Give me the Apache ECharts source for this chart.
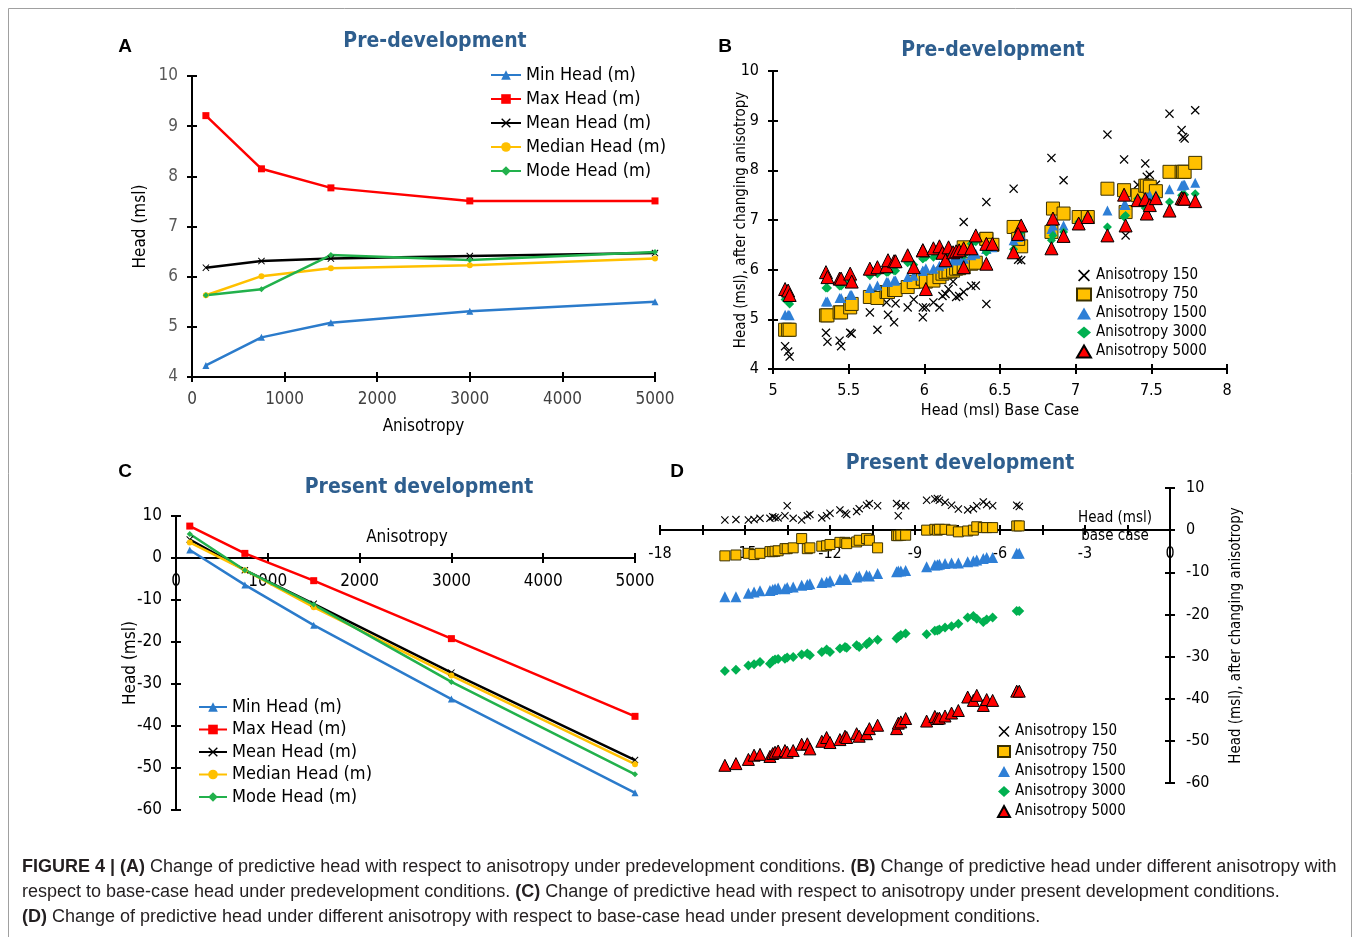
<!DOCTYPE html>
<html><head><meta charset="utf-8">
<script src="https://cdn.jsdelivr.net/npm/echarts@6/dist/echarts.min.js"></script>
<style>html,body{margin:0;padding:0;background:#fff}#c{width:1360px;height:937px}</style>
</head><body><div id="c"></div>
<script>
// ---------- DATA ----------
const anisotropy = [150, 750, 1500, 3000, 5000];
const lineNames = ['Min Head (m)', 'Max Head (m)', 'Mean Head (m)', 'Median Head (m)', 'Mode Head (m)'];
// Panel A: pre-development
const preMin    = [4.23, 4.79, 5.08, 5.31, 5.50];
const preMax    = [9.21, 8.15, 7.77, 7.51, 7.51];
const preMean   = [6.18, 6.31, 6.36, 6.41, 6.47];
const preMedian = [5.63, 6.01, 6.17, 6.23, 6.36];
const preMode   = [5.63, 5.75, 6.43, 6.33, 6.49];
// Panel C: present development
const presMin    = [1.9, -6.4, -16.0, -33.6, -55.9];
const presMax    = [7.6, 1.1, -5.4, -19.2, -37.7];
const presMean   = [4.4, -2.9, -10.9, -27.3, -48.1];
const presMedian = [3.7, -2.9, -11.7, -28.0, -49.1];
const presMode   = [5.7, -2.9, -11.1, -29.5, -51.5];

const scatterNames = ['Anisotropy 150', 'Anisotropy 750', 'Anisotropy 1500', 'Anisotropy 3000', 'Anisotropy 5000'];
// Panel B: base-case head (x) and head after changing anisotropy (y)
const baseB = [5.08,5.10,5.11,5.35,5.36,5.44,5.45,5.51,5.52,5.64,5.69,5.75,5.76,5.80,5.81,5.89,5.93,5.99,5.99,6.01,
  6.06,6.10,6.12,6.14,6.16,6.19,6.21,6.23,6.26,6.26,6.31,6.34,6.41,6.41,6.45,6.59,6.64,6.62,6.84,6.85,
  6.92,7.02,7.08,7.21,7.32,7.33,7.41,7.46,7.47,7.49,7.53,7.62,7.70,7.71,7.72,7.79];
const preB150 = [4.46,4.35,4.25,4.73,4.55,4.57,4.46,4.73,4.71,5.14,4.79,5.34,5.09,4.94,5.32,5.24,5.40,5.24,5.04,5.24,
  5.34,5.24,5.47,5.51,5.61,5.76,5.45,5.47,6.96,5.55,5.67,5.68,5.31,7.36,6.49,7.63,6.19,6.20,8.25,7.21,
  7.80,7.04,7.08,8.72,8.22,6.69,7.71,8.14,7.87,7.91,7.71,9.14,8.81,8.67,8.64,9.21];
const preB750 = [4.79,4.79,4.79,5.08,5.08,5.14,5.14,5.24,5.31,5.45,5.43,5.55,5.55,5.59,5.59,5.65,5.75,5.82,5.82,5.76,
  5.78,5.85,5.92,5.95,5.96,5.98,6.02,6.03,6.05,6.45,6.12,6.14,6.62,6.62,6.50,6.86,6.47,6.62,6.76,7.23,
  7.13,7.06,7.06,7.63,7.60,7.16,7.50,7.69,7.69,7.67,7.58,7.97,7.97,7.97,7.97,8.15];
const preB1500 = [5.09,5.09,5.08,5.36,5.36,5.43,5.43,5.49,5.49,5.63,5.68,5.75,5.75,5.78,5.78,5.85,5.88,5.98,5.98,6.03,
  6.02,6.08,6.12,6.14,6.15,6.19,6.19,6.19,6.22,6.23,6.29,6.32,6.42,6.42,6.45,6.59,6.69,6.66,6.82,6.89,
  6.89,6.96,7.06,7.19,7.30,7.30,7.43,7.46,7.46,7.50,7.50,7.62,7.69,7.71,7.71,7.75];
const preB3000 = [5.40,5.36,5.31,5.63,5.63,5.67,5.67,5.76,5.76,5.88,5.92,5.95,5.95,5.98,5.98,6.14,6.10,6.22,6.22,6.25,
  6.25,6.29,6.30,6.32,6.32,6.35,6.34,6.30,6.29,6.39,6.52,6.56,6.35,6.39,6.49,6.41,6.76,6.72,6.59,6.69,
  6.76,6.96,7.06,6.86,7.06,7.09,7.43,7.24,7.24,7.35,7.46,7.36,7.50,7.51,7.51,7.53];
const preB5000 = [5.61,5.58,5.49,5.95,5.85,5.82,5.82,5.92,5.76,6.02,6.05,6.07,6.19,6.17,6.17,6.29,6.05,6.39,6.39,5.61,
  6.43,6.47,6.34,6.19,6.45,6.35,6.37,6.39,6.05,6.43,6.43,6.69,6.12,6.52,6.52,6.35,6.89,6.72,6.43,7.03,
  6.68,6.93,7.06,6.69,7.51,6.89,7.40,7.42,7.13,7.30,7.44,7.19,7.44,7.43,7.43,7.38];
// Panel D
const baseD = [-15.71,-15.32,-14.88,-14.68,-14.47,-14.12,-14.02,-13.94,-13.83,-13.59,-13.51,-13.30,-13.00,-12.80,-12.71,
  -12.29,-12.12,-12.00,-11.65,-11.47,-11.41,-11.06,-10.97,-10.71,-10.61,-10.32,-9.65,-9.59,-9.50,-9.33,
  -8.59,-8.30,-8.21,-8.14,-7.94,-7.71,-7.47,-7.14,-6.94,-6.82,-6.59,-6.47,-6.26,-5.41,-5.32];
const presD150 = [2.4,2.5,2.4,2.5,2.8,2.8,3.2,3.0,2.9,3.4,5.8,2.8,2.4,3.4,3.7,2.9,3.4,4.0,4.8,4.0,
  3.7,4.4,5.1,5.9,6.3,5.8,6.3,3.4,5.8,5.8,7.1,7.4,7.5,7.1,6.6,5.9,5.0,4.8,5.1,5.8,6.7,6.1,5.8,5.9,5.6];
const presD750 = [-6.1,-5.9,-5.5,-5.8,-5.5,-5.1,-5.1,-5.0,-4.9,-4.4,-4.4,-4.2,-2.0,-4.4,-4.2,-3.8,-3.7,-3.4,-2.9,-2.9,
  -3.2,-2.8,-2.4,-2.0,-2.4,-4.2,-1.3,-1.3,-1.2,-1.2,0.0,0.2,0.0,0.2,0.2,0.0,-0.4,-0.2,0.0,0.8,0.6,0.6,0.6,1.0,1.0];
const presD1500 = [-15.8,-15.8,-15.0,-14.7,-14.4,-14.3,-14.1,-13.9,-13.7,-13.9,-13.6,-13.5,-13.1,-12.9,-12.7,-12.4,-12.3,-12.0,-11.7,-11.5,
  -11.7,-11.1,-10.9,-10.7,-10.9,-10.3,-9.9,-9.7,-9.7,-9.6,-8.7,-8.3,-8.2,-8.1,-7.9,-7.8,-7.8,-7.5,-7.3,-7.1,-6.7,-6.5,-6.5,-5.5,-5.5];
const presD3000 = [-33.4,-33.1,-32.1,-31.8,-31.3,-31.7,-31.0,-30.7,-30.6,-30.5,-30.2,-30.1,-29.5,-29.3,-29.7,-28.9,-28.3,-28.9,-28.1,-27.7,
  -27.9,-27.3,-27.7,-27.1,-26.5,-26.0,-25.7,-25.3,-24.9,-24.5,-24.7,-23.9,-23.8,-23.6,-23.1,-22.8,-22.2,-20.7,-20.4,-21.0,-21.8,-21.2,-20.7,-19.2,-19.2];
const presD5000 = [-55.8,-55.4,-54.4,-53.4,-53.2,-53.7,-53.0,-52.7,-52.4,-52.3,-52.7,-52.3,-50.8,-50.7,-51.9,-50.1,-49.2,-50.4,-49.7,-48.9,
  -49.2,-48.3,-48.9,-48.3,-47.1,-46.3,-47.1,-45.8,-45.5,-44.7,-45.3,-44.2,-44.7,-44.6,-44.1,-43.4,-42.8,-39.6,-40.4,-39.2,-41.6,-40.2,-40.4,-38.2,-38.2];

// ---------- STYLE ----------
const FONT = "'DejaVu Sans Condensed','DejaVu Sans',sans-serif";
const CAP = "'Liberation Sans',Arial,sans-serif";
const TITLE_C = '#2E5E8E';
const CROSS = 'path://M1,0L5,4L9,0L10,1L6,5L10,9L9,10L5,6L1,10L0,9L4,5L0,1Z';
const lineColors = ['#2B7BCB', '#FF0000', '#000000', '#FFC000', '#22B14C'];
const lineSymbols = ['triangle', 'rect', CROSS, 'circle', 'diamond'];
const lineSizes = [7, 7, 7, 6, 6];
const scColors = ['#000000', '#FFC000', '#2E7FD6', '#00B050', '#FF0000'];
const scSymbols = [CROSS, 'rect', 'triangle', 'diamond', 'triangle'];
const scBorders = [null, '#3a3000', null, null, '#000000'];
const plain = v => String(v);
const TICK_LEN = 5;

function axis(extra) {
  const base = {
    type: 'value',
    axisLine: { show: true, onZero: false, lineStyle: { color: '#000', width: 2 } },
    axisTick: { show: true, length: TICK_LEN, lineStyle: { color: '#000', width: 2 } },
    splitLine: { show: false },
    axisLabel: { fontFamily: FONT, fontSize: 16, color: '#000', margin: 12, showMinLabel: true, showMaxLabel: true, formatter: plain },
    nameTextStyle: { fontFamily: FONT, fontSize: 16, color: '#000' },
    nameMoveOverlap: false
  };
  const o = Object.assign({}, base, extra);
  ['axisLine', 'axisTick', 'axisLabel', 'nameTextStyle'].forEach(k => {
    if (extra[k]) o[k] = Object.assign({}, base[k], extra[k]);
  });
  return o;
}
// twin axis drawing the inner half of the crossing tick marks
function twin(a) {
  const t = {
    type: 'value', gridIndex: a.gridIndex, position: a.position, offset: a.offset || 0,
    min: a.min, max: a.max, interval: a.interval, silent: true,
    axisLine: { show: false, onZero: false },
    axisTick: { show: true, inside: true, length: TICK_LEN, lineStyle: { color: '#000', width: 2 } },
    axisLabel: { show: false }, splitLine: { show: false }
  };
  if (a.minorTick) t.minorTick = { show: true, splitNumber: a.minorTick.splitNumber, length: TICK_LEN, lineStyle: { color: '#000', width: 2 } };
  return t;
}

const lineSetsA = [preMin, preMax, preMean, preMedian, preMode];
const lineSetsC = [presMin, presMax, presMean, presMedian, presMode];
const scSetsB = [preB150, preB750, preB1500, preB3000, preB5000];
const scSetsD = [presD150, presD750, presD1500, presD3000, presD5000];

const series = [];
function addLines(sets, idx) {
  sets.forEach((arr, i) => {
    series.push({
      type: 'line', name: lineNames[i], xAxisIndex: idx, yAxisIndex: idx,
      data: anisotropy.map((a, j) => [a, arr[j]]),
      symbol: lineSymbols[i], symbolSize: lineSizes[i], showSymbol: true,
      lineStyle: { color: lineColors[i], width: 2.5 },
      itemStyle: { color: lineColors[i] },
      animation: false
    });
  });
}
function addScatter(sets, base, idx, sizes) {
  sets.forEach((arr, i) => {
    series.push({
      type: 'scatter', name: scatterNames[i], xAxisIndex: idx, yAxisIndex: idx,
      data: base.map((b, j) => [b, arr[j]]),
      symbol: scSymbols[i], symbolSize: sizes[i],
      itemStyle: scBorders[i] ? { color: scColors[i], borderColor: scBorders[i], borderWidth: 1, opacity: 1 }
                              : { color: scColors[i], opacity: 1 },
      animation: false
    });
  });
}
addLines(lineSetsA, 0);
addScatter(scSetsB, baseB, 1, [9, 13, 10, 9, 13]);
addLines(lineSetsC, 2);
addScatter(scSetsD, baseD, 3, [8, 10, 11, 10, 12]);

// grid geometry (pixels)
const gC = { left: 176, top: 516, width: 459, height: 294 };
const gD = { left: 660, top: 488, width: 510, height: 295 };
// x axes of C and D sit on the zero line of their y axes (10/70 of the height from the top)
const offC = -Math.round(gC.height * 60 / 70);
const offD = -Math.round(gD.height * 60 / 70);

const xAxes = [
  axis({ gridIndex: 0, position: 'bottom', min: 0, max: 5000, interval: 1000, name: 'Anisotropy', nameLocation: 'middle', nameGap: 41,
    axisLabel: { fontSize: 17, color: '#404040', margin: 14 }, nameTextStyle: { fontSize: 17 } }),
  axis({ gridIndex: 1, position: 'bottom', min: 5, max: 8, interval: 0.5, name: 'Head (msl) Base Case', nameLocation: 'middle', nameGap: 34,
    axisLabel: { fontSize: 16, margin: 14 }, nameTextStyle: { fontSize: 16 } }),
  axis({ gridIndex: 2, position: 'bottom', min: 0, max: 5000, interval: 1000, offset: offC,
    axisLabel: { fontSize: 17, margin: 15 } }),
  axis({ gridIndex: 3, position: 'bottom', min: -18, max: 0, interval: 3, offset: offD,
    minorTick: { show: true, splitNumber: 2, length: TICK_LEN, lineStyle: { color: '#000', width: 2 } },
    axisLabel: { fontSize: 16, margin: 16 } })
];
const yAxes = [
  axis({ gridIndex: 0, position: 'left', min: 4, max: 10, interval: 1, name: 'Head (msl)', nameLocation: 'middle', nameGap: 43,
    axisLabel: { fontSize: 17, color: '#595959', margin: 14 }, nameTextStyle: { fontSize: 17 } }),
  axis({ gridIndex: 1, position: 'left', min: 4, max: 10, interval: 1, name: 'Head (msl), after changing anisotropy', nameLocation: 'middle', nameGap: 24,
    axisLabel: { fontSize: 16, margin: 14 }, nameTextStyle: { fontSize: 15 } }),
  axis({ gridIndex: 2, position: 'left', min: -60, max: 10, interval: 10, name: 'Head (msl)', nameLocation: 'middle', nameGap: 37,
    axisLabel: { fontSize: 17, margin: 14 }, nameTextStyle: { fontSize: 17 } }),
  axis({ gridIndex: 3, position: 'right', min: -60, max: 10, interval: 10, name: 'Head (msl), after changing anisotropy',
    nameLocation: 'middle', nameGap: 59, nameRotate: 90,
    axisLabel: { fontSize: 16, margin: 16 }, nameTextStyle: { fontSize: 15 } })
];
const xAll = xAxes.concat(xAxes.map(twin));
const yAll = yAxes.concat(yAxes.map(twin));

const titleStyle = { color: TITLE_C, fontSize: 21, fontWeight: 'bold', fontFamily: FONT };
const txt = (t, x, y, font, extra) => ({ type: 'text', x: x, y: y, silent: true,
  style: Object.assign({ text: t, font: font, fill: '#000', textAlign: 'center', textVerticalAlign: 'middle' }, extra || {}) });
const capRich = { b: { fontWeight: 'bold', fontSize: 18, fontFamily: CAP, fill: '#231f20' } };

const option = {
  backgroundColor: '#fff',
  animation: false,
  textStyle: { fontFamily: FONT },
  title: [
    { text: 'Pre-development', left: 435, top: 31, textAlign: 'center', padding: 0, textStyle: titleStyle },
    { text: 'Pre-development', left: 993, top: 40, textAlign: 'center', padding: 0, textStyle: titleStyle },
    { text: 'Present development', left: 419, top: 477, textAlign: 'center', padding: 0, textStyle: titleStyle },
    { text: 'Present development', left: 960, top: 453, textAlign: 'center', padding: 0, textStyle: titleStyle }
  ],
  grid: [
    { left: 192, top: 76, width: 463, height: 301 },
    { left: 773, top: 71, width: 454, height: 298 },
    gC,
    gD
  ],
  xAxis: xAll,
  yAxis: yAll,
  legend: [
    { data: lineNames, left: 490, top: 66, orient: 'vertical', itemWidth: 30, itemHeight: 12, itemGap: 6, padding: 0,
      textStyle: { fontSize: 18, color: '#000', fontFamily: FONT } },
    { data: scatterNames, left: 1076, top: 268, orient: 'vertical', itemWidth: 14, itemHeight: 12, itemGap: 4, padding: 0,
      textStyle: { fontSize: 15, color: '#000', fontFamily: FONT } },
    { data: lineNames, left: 198, top: 698, orient: 'vertical', itemWidth: 28, itemHeight: 12, itemGap: 4.5, padding: 0,
      textStyle: { fontSize: 18, color: '#000', fontFamily: FONT } },
    { data: scatterNames, left: 997, top: 724, orient: 'vertical', itemWidth: 12, itemHeight: 11, itemGap: 5, padding: 0,
      textStyle: { fontSize: 15, color: '#000', fontFamily: FONT } }
  ],
  series: series,
  graphic: [
    { type: 'rect', silent: true, shape: { x: 8.5, y: 8.5, width: 1343, height: 940 }, style: { fill: 'none', stroke: '#a0a0a0', lineWidth: 1 } },
    txt('A', 125, 47, "bold 19px 'Liberation Sans',Arial"),
    txt('B', 725, 47, "bold 19px 'Liberation Sans',Arial"),
    txt('C', 125, 472, "bold 19px 'Liberation Sans',Arial"),
    txt('D', 677, 472, "bold 19px 'Liberation Sans',Arial"),
    txt('Anisotropy', 407, 538, '17px ' + FONT),
    txt('Head (msl)', 1115, 518, '15px ' + FONT),
    txt('base case', 1115, 536, '15px ' + FONT),
    txt('{b|FIGURE 4 | (A)} Change of predictive head with respect to anisotropy under predevelopment conditions. {b|(B)} Change of predictive head under different anisotropy with',
      22, 867, '18px ' + CAP, { fill: '#231f20', textAlign: 'left', rich: capRich }),
    txt('respect to base-case head under predevelopment conditions. {b|(C)} Change of predictive head with respect to anisotropy under present development conditions.',
      22, 892, '18px ' + CAP, { fill: '#231f20', textAlign: 'left', rich: capRich }),
    txt('{b|(D)} Change of predictive head under different anisotropy with respect to base-case head under present development conditions.',
      22, 917, '18px ' + CAP, { fill: '#231f20', textAlign: 'left', rich: capRich })
  ]
};
const chart = echarts.init(document.getElementById('c'));
chart.setOption(option);
</script>
</body></html>
